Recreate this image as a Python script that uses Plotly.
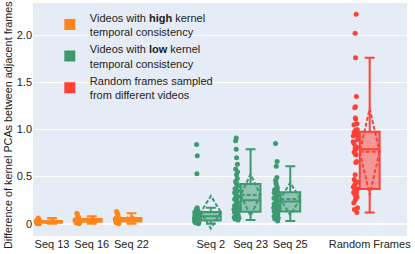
import plotly.graph_objects as go

categories = ["Seq 13", "Seq 16", "Seq 22", "Seq 2", "Seq 23", "Seq 25", "Random Frames"]
positions = [0, 1, 2, 4, 5, 6, 8]
groups = ["high", "high", "high", "low", "low", "low", "random"]

seq13 = [0.00, 0.00, 0.01, 0.01, 0.01, 0.01, 0.02, 0.02, 0.02, 0.02, 0.02, 0.02, 0.02, 0.03,
         0.03, 0.03, 0.03, 0.03, 0.04, 0.04, 0.05, 0.06]
seq16 = [0.00, 0.01, 0.01, 0.01, 0.02, 0.02, 0.02, 0.02, 0.03, 0.03, 0.03, 0.03, 0.03, 0.04,
         0.04, 0.04, 0.04, 0.05, 0.05, 0.06, 0.07, 0.08, 0.10, 0.11]
seq22 = [0.00, 0.01, 0.01, 0.02, 0.02, 0.02, 0.03, 0.03, 0.03, 0.04, 0.04, 0.04, 0.04, 0.05,
         0.05, 0.05, 0.05, 0.06, 0.06, 0.07, 0.08, 0.10, 0.11, 0.13]
seq2 = [0.00, 0.01, 0.01, 0.02, 0.02, 0.02, 0.03, 0.03, 0.03, 0.03, 0.04, 0.04, 0.05, 0.05,
        0.06, 0.06, 0.07, 0.07, 0.07, 0.08, 0.08, 0.08, 0.09, 0.09, 0.10, 0.10, 0.11, 0.11,
        0.12, 0.12, 0.13, 0.13, 0.14, 0.15, 0.15, 0.16, 0.17, 0.53, 0.72, 0.84]
seq23 = [0.04, 0.05, 0.06, 0.07, 0.08, 0.09, 0.10, 0.10, 0.11, 0.12, 0.12, 0.13, 0.14, 0.15,
         0.16, 0.17, 0.18, 0.19, 0.20, 0.21, 0.22, 0.24, 0.25, 0.26, 0.27, 0.28, 0.29, 0.30,
         0.32, 0.33, 0.35, 0.37, 0.40, 0.42, 0.43, 0.45, 0.48, 0.52, 0.55, 0.58, 0.63, 0.70,
         0.79, 0.88, 0.91]
seq25 = [0.03, 0.05, 0.06, 0.08, 0.09, 0.10, 0.11, 0.12, 0.12, 0.13, 0.13, 0.14, 0.15, 0.17,
         0.18, 0.19, 0.20, 0.21, 0.22, 0.23, 0.24, 0.25, 0.26, 0.27, 0.28, 0.29, 0.30, 0.31,
         0.32, 0.33, 0.34, 0.36, 0.38, 0.40, 0.43, 0.46, 0.49, 0.61, 0.66, 0.85]
random_frames = [0.12, 0.15, 0.17, 0.22, 0.25, 0.28, 0.29, 0.30, 0.31, 0.33, 0.34, 0.36, 0.37,
                 0.39, 0.41, 0.44, 0.45, 0.47, 0.52, 0.65, 0.66, 0.73, 0.74, 0.76, 0.79, 0.80,
                 0.81, 0.82, 0.85, 0.87, 0.89, 0.93, 0.94, 0.95, 0.96, 0.97, 0.97, 0.99, 1.00,
                 1.05, 1.06, 1.11, 1.12, 1.23, 1.24, 1.35, 1.76, 2.02, 2.22]
series = [seq13, seq16, seq22, seq2, seq23, seq25, random_frames]

colors = {"high": "#FF851B", "low": "#3D9970", "random": "#FF4136"}
legend_names = {
    "high": "Videos with <b>high</b> kernel<br>temporal consistency",
    "low": "Videos with <b>low</b> kernel<br>temporal consistency",
    "random": "Random frames sampled<br>from different videos",
}
y_tickvals = [0, 0.5, 1.0, 1.5, 2.0]
y_ticktext = ["0", "0.5", "1.0", "1.5", "2.0"]
y_title = "Difference of kernel PCAs between adjacent frames"

fig = go.Figure()
for name, pos, grp, vals in zip(categories, positions, groups, series):
    c = colors[grp]
    fig.add_trace(go.Box(
        y=vals, x=[pos] * len(vals), name=name, width=0.5,
        boxpoints="all", jitter=0.3, pointpos=-1.4, boxmean="sd",
        marker=dict(color=c, size=5), line=dict(color=c, width=2),
        showlegend=False,
    ))

for grp in ["high", "low", "random"]:
    fig.add_trace(go.Scatter(
        x=[None], y=[None], mode="markers", name=legend_names[grp],
        marker=dict(symbol="square", size=11, color=colors[grp]),
    ))

fig.add_annotation(
    text=y_title, textangle=-90, xref="paper", yref="paper",
    x=-0.067, y=0.476, xanchor="center", yanchor="middle",
    showarrow=False, font=dict(size=10.8),
)

fig.update_layout(
    width=415, height=254,
    margin=dict(l=33, r=8, t=3, b=18),
    font=dict(family="Liberation Sans, Arial, sans-serif", size=11, color="#222"),
    plot_bgcolor="#E5ECF6", paper_bgcolor="white",
    legend=dict(x=0.045, y=0.997, xanchor="left", yanchor="top",
                bgcolor="rgba(0,0,0,0)", font=dict(size=11)),
    xaxis=dict(tickmode="array", tickvals=positions, ticktext=categories,
               range=[-0.48, 8.94], showgrid=False, zeroline=False),
    yaxis=dict(tickmode="array", tickvals=y_tickvals, ticktext=y_ticktext,
               range=[-0.13, 2.34], gridcolor="white", zeroline=True,
               zerolinecolor="white", zerolinewidth=2),
)

fig.write_html("out.html", config={"displayModeBar": False},
               post_script="document.body.style.margin='0';")
